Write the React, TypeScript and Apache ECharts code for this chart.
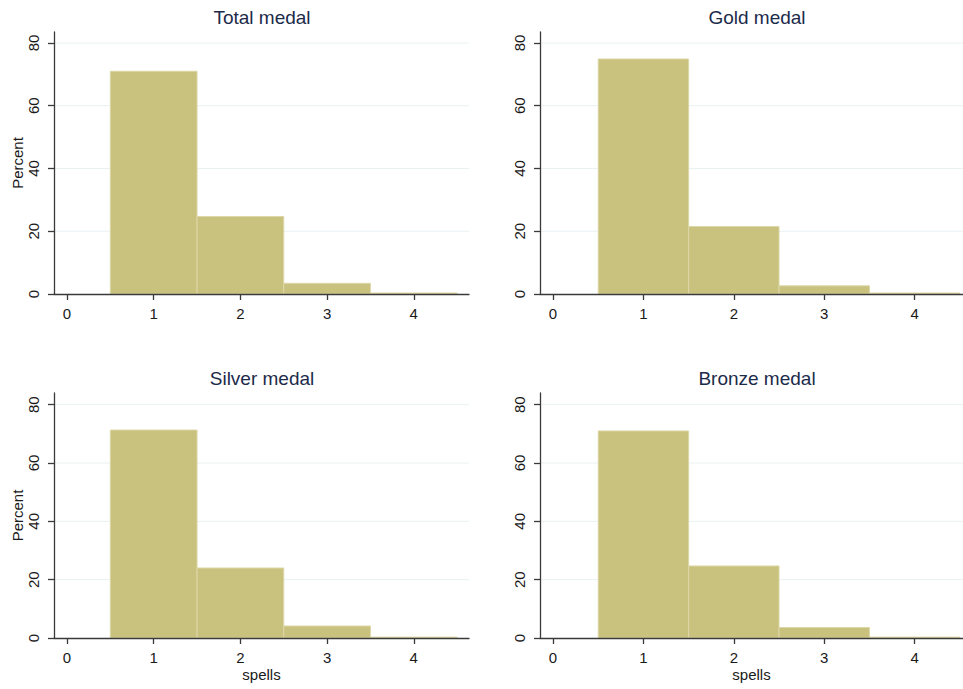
import React, { useEffect, useRef } from "react";
import * as echarts from "echarts";

const categories = [1, 2, 3, 4];
const totalValues = [71.0, 24.7, 3.4, 0.3];
const goldValues = [74.9, 21.5, 2.6, 0.3];
const silverValues = [71.3, 24.0, 4.1, 0.3];
const bronzeValues = [71.0, 24.7, 3.6, 0.3];
const xTicks = [0, 1, 2, 3, 4];
const yTicks = [0, 20, 40, 60, 80];
const gridTicks = [20, 40, 60, 80];
const titles = ["Total medal", "Gold medal", "Silver medal", "Bronze medal"];
const seriesValues = [totalValues, goldValues, silverValues, bronzeValues];

const FONT = "'Liberation Sans', Arial, sans-serif";
const AXIS_COLOR = "#3a3a3a";
const LABEL_COLOR = "#1a1a1a";
const BAR_FILL = "#c9c27f";
const BAR_EDGE = "#dcd7a6";
const GRID_COLOR = "#e9f1f3";

const panels = [
  { left: 54, top: 32, width: 415, height: 262, xMin: -0.15, xMax: 4.637, yMax: 83.5, titleX: 262, titleY: 17, yName: "Percent", xName: "" },
  { left: 540, top: 32, width: 423, height: 262, xMin: -0.144, xMax: 4.535, yMax: 83.5, titleX: 757, titleY: 17, yName: "", xName: "" },
  { left: 54, top: 393, width: 415, height: 245, xMin: -0.15, xMax: 4.637, yMax: 84, titleX: 262, titleY: 378, yName: "Percent", xName: "spells" },
  { left: 540, top: 393, width: 423, height: 245, xMin: -0.144, xMax: 4.535, yMax: 84, titleX: 757, titleY: 378, yName: "", xName: "spells" },
];

export default function App() {
  const ref = useRef<HTMLDivElement>(null);
  useEffect(() => {
    if (!ref.current) return;
    const chart = echarts.init(ref.current, null, { renderer: "svg" });
    const grid: any[] = [];
    const xAxis: any[] = [];
    const yAxis: any[] = [];
    const series: any[] = [];
    const graphic: any[] = [];
    panels.forEach((p, i) => {
      grid.push({ left: p.left, top: p.top, width: p.width, height: p.height, containLabel: false });
      xAxis.push({
        type: "value",
        gridIndex: i,
        z: 5,
        min: p.xMin,
        max: p.xMax,
        name: p.xName,
        nameLocation: "middle",
        nameGap: 29,
        nameTextStyle: { fontFamily: FONT, fontSize: 15, color: LABEL_COLOR },
        axisLine: { show: true, onZero: false, lineStyle: { color: AXIS_COLOR, width: 1.3 } },
        axisTick: { show: true, length: 6, customValues: xTicks, lineStyle: { color: AXIS_COLOR, width: 1.3 } },
        axisLabel: { show: true, customValues: xTicks, margin: 12, fontFamily: FONT, fontSize: 15, color: LABEL_COLOR },
        splitLine: { show: false },
      });
      yAxis.push({
        type: "value",
        gridIndex: i,
        z: 5,
        min: 0,
        max: p.yMax,
        name: p.yName,
        nameLocation: "middle",
        nameGap: 28,
        nameTextStyle: { fontFamily: FONT, fontSize: 15, color: LABEL_COLOR },
        axisLine: { show: true, onZero: false, lineStyle: { color: AXIS_COLOR, width: 1.3 } },
        axisTick: { show: true, length: 6, customValues: yTicks, lineStyle: { color: AXIS_COLOR, width: 1.3 } },
        axisLabel: { show: true, customValues: yTicks, rotate: 90, margin: 13, fontFamily: FONT, fontSize: 15, color: LABEL_COLOR },
        splitLine: { show: false },
      });
      series.push({
        type: "custom",
        xAxisIndex: i,
        yAxisIndex: i,
        z: 1,
        silent: true,
        data: gridTicks.map((v) => [v]),
        encode: { y: 0 },
        renderItem: (params: any, api: any) => {
          const v = api.value(0);
          const a = api.coord([p.xMin, v]);
          const b = api.coord([p.xMax, v]);
          return {
            type: "line",
            shape: { x1: a[0], y1: a[1], x2: b[0], y2: b[1] },
            style: { stroke: GRID_COLOR, lineWidth: 1 },
          };
        },
      });
      series.push({
        type: "custom",
        xAxisIndex: i,
        yAxisIndex: i,
        z: 2,
        data: categories.map((c, k) => [c, seriesValues[i][k]]),
        encode: { x: 0, y: 1 },
        renderItem: (params: any, api: any) => {
          const x = api.value(0);
          const y = api.value(1);
          const p0 = api.coord([x - 0.5, y]);
          const p1 = api.coord([x + 0.5, 0]);
          return {
            type: "rect",
            shape: { x: p0[0], y: p0[1], width: p1[0] - p0[0], height: p1[1] - p0[1] },
            style: { fill: BAR_FILL, stroke: BAR_EDGE, lineWidth: 1 },
          };
        },
      });
      graphic.push({
        type: "text",
        x: p.titleX,
        y: p.titleY,
        style: {
          text: titles[i],
          fontFamily: FONT,
          fontSize: 19,
          fill: "#1c2b4a",
          textAlign: "center",
          textVerticalAlign: "middle",
        },
      });
    });
    chart.setOption({
      animation: false,
      backgroundColor: "#ffffff",
      grid,
      xAxis,
      yAxis,
      series,
      graphic,
    });
    return () => chart.dispose();
  }, []);
  return <div ref={ref} style={{ position: "absolute", left: 0, top: 0, width: 963, height: 689 }} />;
}
